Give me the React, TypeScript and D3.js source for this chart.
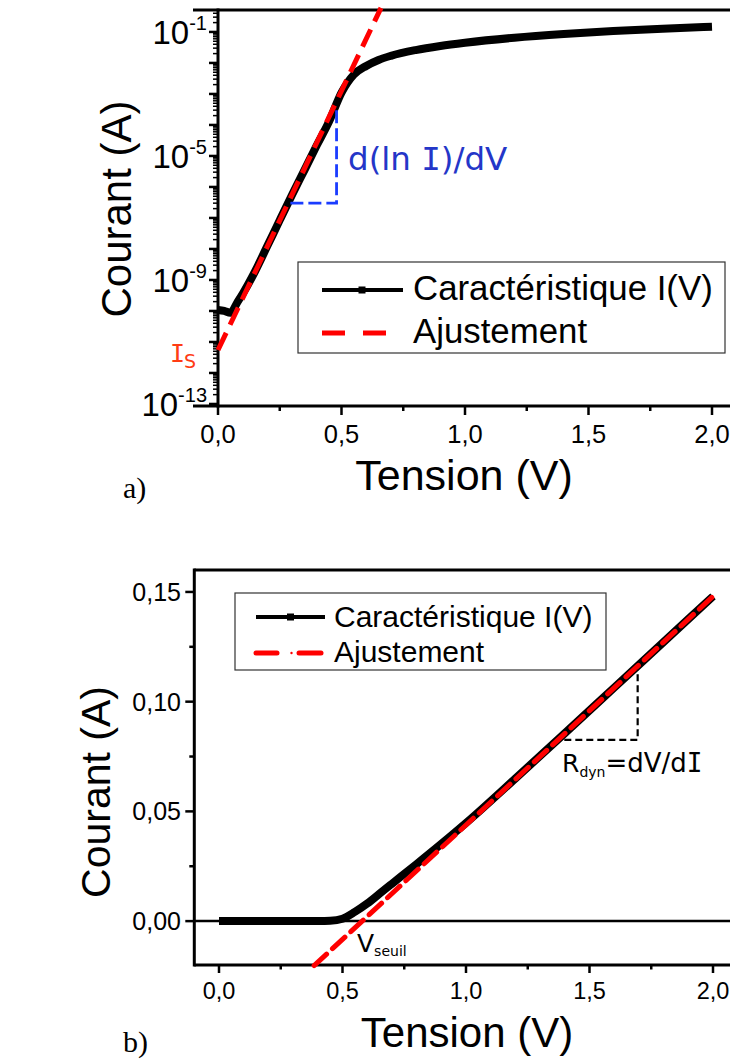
import React from "react";
import * as d3 from "d3";

// ---- Data ----
const voltage = [0, 0.025, 0.05, 0.08, 0.1, 0.15, 0.2, 0.25, 0.3, 0.35, 0.4, 0.45, 0.5, 0.55, 0.6, 0.65, 0.7, 0.8, 0.9, 1.0, 1.2, 1.4, 1.6, 1.8, 2.0];
const current = [1.07e-10, 1.0e-10, 8.7e-11, 2.0e-10, 3.6e-10, 1.9e-9, 1.26e-8, 8.5e-8, 5.6e-7, 3.5e-6, 2.2e-5, 1.3e-4, 1.1e-3, 4.2e-3, 8.0e-3, 1.25e-2, 1.7e-2, 2.6e-2, 3.52e-2, 4.47e-2, 6.5e-2, 8.56e-2, 1.064e-1, 1.272e-1, 1.48e-1];

// exponential fit (log plot), end points
const fitLogV = [0, 0.66];
const fitLogI = [5.5e-12, 0.6];
// linear fit (linear plot), end points
const fitLinV = [0.385, 2.0];
const fitLinI = [-0.0203, 0.148];

// annotation triangles
const slopeV = [0.293, 0.48];
const slopeI = [3.0e-7, 3.8e-4];
const rdynV = [1.398, 1.695];
const rdynI = [0.0826, 0.1146];

const xTicks = [0, 0.5, 1, 1.5, 2];
const xTickLabels = ["0,0", "0,5", "1,0", "1,5", "2,0"];
const xMinorTicks = [0.25, 0.75, 1.25, 1.75];
const logLabelExps = [-13, -9, -5, -1];
const linTicks = [0, 0.05, 0.1, 0.15];
const linTickLabels = ["0,00", "0,05", "0,10", "0,15"];
const linMinorTicks = [0.025, 0.075, 0.125];

const seriesName = "Caractéristique I(V)";
const fitName = "Ajustement";

const SANS = "'Liberation Sans', Arial, sans-serif";
const VERD = "'DejaVu Sans', Verdana, sans-serif";
const MONO = "'DejaVu Sans Mono', monospace";
const SERIF = "'Liberation Serif', 'Times New Roman', serif";

export default function App() {
  const pts = voltage.map((v, k) => ({ v, i: current[k] }));

  // ---------- top (log) plot ----------
  const xA = d3.scaleLinear().domain([-0.1, 2.2]).range([193.3, 761.4]);
  const yA = d3.scaleLog().domain([8.6e-14, 0.51]).range([406, 10]);
  const lineA = d3
    .line<{ v: number; i: number }>()
    .x((d) => xA(d.v))
    .y((d) => yA(d.i))
    .curve(d3.curveMonotoneX);
  const fitA = d3
    .line<number>()
    .x((_, k) => xA(fitLogV[k]))
    .y((d) => yA(d));

  const ax0 = xA(0);
  const logMajors: number[] = [];
  const logMinors: number[] = [];
  for (let e = -13; e <= -1; e++) logMajors.push(Math.pow(10, e));
  for (let e = -14; e <= -1; e++)
    for (let m = 2; m <= 9; m++) {
      const val = m * Math.pow(10, e);
      if (val >= 8.6e-14 && val <= 0.51) logMinors.push(val);
    }

  // ---------- bottom (linear) plot ----------
  const xB = d3.scaleLinear().domain([-0.1, 2.2]).range([194.3, 762.4]);
  const yB = d3.scaleLinear().domain([-0.02, 0.16]).range([965, 570]);
  const lineB = d3
    .line<{ v: number; i: number }>()
    .x((d) => xB(d.v))
    .y((d) => yB(d.i))
    .curve(d3.curveMonotoneX);
  const fitB = d3
    .line<number>()
    .x((_, k) => xB(fitLinV[k]))
    .y((d) => yB(d));

  const bL = xB(-0.1);

  return (
    <div style={{ position: "absolute", left: 0, top: 0 }}>
      <svg width={730} height={1061} style={{ display: "block", background: "#fff" }}>
        {/* ================= TOP PLOT ================= */}
        <g>
          <line x1={193} x2={730} y1={10} y2={10} stroke="#000" strokeWidth={3} />
          <line x1={193} x2={730} y1={406} y2={406} stroke="#000" strokeWidth={3} />
          <line x1={ax0} x2={ax0} y1={8.5} y2={407.5} stroke="#000" strokeWidth={3} />
          {xTicks.map((t, k) => (
            <g key={"xa" + k}>
              <line x1={xA(t)} x2={xA(t)} y1={406} y2={415} stroke="#000" strokeWidth={2.5} />
              <text x={xA(t)} y={443} textAnchor="middle" fontFamily={SANS} fontSize={25.5}>
                {xTickLabels[k]}
              </text>
            </g>
          ))}
          {xMinorTicks.map((t, k) => (
            <line key={"xam" + k} x1={xA(t)} x2={xA(t)} y1={406} y2={411} stroke="#000" strokeWidth={2.5} />
          ))}
          {logMajors.map((t, k) => (
            <line key={"yam" + k} x1={ax0 - 9} x2={ax0} y1={yA(t)} y2={yA(t)} stroke="#000" strokeWidth={2.5} />
          ))}
          {logMinors.map((t, k) => (
            <line key={"yamn" + k} x1={ax0 - 5} x2={ax0} y1={yA(t)} y2={yA(t)} stroke="#000" strokeWidth={1.5} />
          ))}
          {logLabelExps.map((e) => (
            <text key={"yal" + e} x={207} y={yA(Math.pow(10, e)) + 12} textAnchor="end" fontFamily={SANS} fontSize={33}>
              10
              <tspan fontSize={20} dy={-14}>
                {String(e)}
              </tspan>
            </text>
          ))}
          <text x={464} y={490} textAnchor="middle" fontFamily={SANS} fontSize={43}>
            Tension (V)
          </text>
          <text transform="translate(131,209) rotate(-90)" textAnchor="middle" fontFamily={SANS} fontSize={42}>
            Courant (A)
          </text>

          <path d={lineA(pts) || ""} fill="none" stroke="#000" strokeWidth={8} />
          <path d={fitA(fitLogI) || ""} fill="none" stroke="#ff0000" strokeWidth={5} strokeDasharray="19,9" />

          <path
            d={`M${xA(slopeV[0])},${yA(slopeI[0])}H${xA(slopeV[1])}V${yA(slopeI[1])}`}
            fill="none"
            stroke="#1a3cff"
            strokeWidth={2.8}
            strokeDasharray="13,5"
          />
          <text x={348} y={170} fontFamily={VERD} fontSize={32.5} fill="#2436c8">
            d(ln <tspan fontFamily={MONO}>I</tspan>)/dV
          </text>
          <text x={170} y={362} fontFamily={MONO} fontSize={25} fill="#ff3c14">
            I
            <tspan fontFamily={VERD} fontSize={19} dy={6} dx={-1}>
              S
            </tspan>
          </text>

          <rect x={298} y={262} width={427} height={91} fill="#fff" stroke="#333" strokeWidth={1.2} />
          <line x1={322} x2={403} y1={290} y2={290} stroke="#000" strokeWidth={4} />
          <rect x={358.5} y={286.5} width={7} height={7} fill="#000" />
          <text x={413} y={300} fontFamily={SANS} fontSize={34.8}>
            {seriesName}
          </text>
          <line x1={322} x2={388} y1={333} y2={333} stroke="#ff0000" strokeWidth={5} strokeDasharray="23,18" />
          <text x={413} y={343} fontFamily={SANS} fontSize={34.8}>
            {fitName}
          </text>
        </g>

        <text x={123} y={498} fontFamily={SERIF} fontSize={30}>
          a)
        </text>

        {/* ================= BOTTOM PLOT ================= */}
        <g>
          <line x1={bL} x2={730} y1={570} y2={570} stroke="#000" strokeWidth={3} />
          <line x1={bL} x2={730} y1={965} y2={965} stroke="#000" strokeWidth={3} />
          <line x1={bL} x2={bL} y1={568.5} y2={966.5} stroke="#000" strokeWidth={3} />
          <line x1={bL} x2={730} y1={yB(0)} y2={yB(0)} stroke="#000" strokeWidth={2.5} />
          {xTicks.map((t, k) => (
            <g key={"xb" + k}>
              <line x1={xB(t)} x2={xB(t)} y1={965} y2={973} stroke="#000" strokeWidth={2.5} />
              <text x={xB(t)} y={999} textAnchor="middle" fontFamily={SANS} fontSize={23.5}>
                {xTickLabels[k]}
              </text>
            </g>
          ))}
          {xMinorTicks.map((t, k) => (
            <line key={"xbm" + k} x1={xB(t)} x2={xB(t)} y1={965} y2={969.5} stroke="#000" strokeWidth={2.5} />
          ))}
          {linTicks.map((t, k) => (
            <g key={"yb" + k}>
              <line x1={bL - 9} x2={bL} y1={yB(t)} y2={yB(t)} stroke="#000" strokeWidth={2.5} />
              <text x={181} y={yB(t) + 9} textAnchor="end" fontFamily={SANS} fontSize={25}>
                {linTickLabels[k]}
              </text>
            </g>
          ))}
          {linMinorTicks.map((t, k) => (
            <line key={"ybm" + k} x1={bL - 5} x2={bL} y1={yB(t)} y2={yB(t)} stroke="#000" strokeWidth={2.5} />
          ))}
          <text x={467} y={1047} textAnchor="middle" fontFamily={SANS} fontSize={42}>
            Tension (V)
          </text>
          <text transform="translate(110,792) rotate(-90)" textAnchor="middle" fontFamily={SANS} fontSize={41}>
            Courant (A)
          </text>

          <path d={lineB(pts) || ""} fill="none" stroke="#000" strokeWidth={8} />
          <path
            d={fitB(fitLinI) || ""}
            fill="none"
            stroke="#ff0000"
            strokeWidth={5}
            strokeDasharray="17,8"
            strokeLinecap="round"
          />

          <path
            d={`M${xB(rdynV[0])},${yB(rdynI[0])}H${xB(rdynV[1])}V${yB(rdynI[1])}`}
            fill="none"
            stroke="#000"
            strokeWidth={2.2}
            strokeDasharray="7,4"
          />
          <text x={562} y={772} fontFamily={VERD} fontSize={25}>
            R
            <tspan fontSize={14} dy={5}>
              dyn
            </tspan>
            <tspan fontSize={26} dy={-5}>
              =dV/d
            </tspan>
            <tspan fontFamily={MONO} fontSize={26}>
              I
            </tspan>
          </text>
          <text x={357} y={952} fontFamily={VERD} fontSize={25}>
            V
            <tspan fontSize={14} dy={4}>
              seuil
            </tspan>
          </text>

          <rect x={235} y={593} width={371} height={77} fill="#fff" stroke="#333" strokeWidth={1.2} />
          <line x1={256} x2={325} y1={617} y2={617} stroke="#000" strokeWidth={4} />
          <rect x={287} y={613.5} width={7} height={7} fill="#000" />
          <text x={334} y={627} fontFamily={SANS} fontSize={30}>
            {seriesName}
          </text>
          <line x1={256} x2={277} y1={653} y2={653} stroke="#ff0000" strokeWidth={5} strokeLinecap="round" />
          <circle cx={291.5} cy={653} r={1.2} fill="#ff0000" />
          <line x1={299} x2={321} y1={653} y2={653} stroke="#ff0000" strokeWidth={5} strokeLinecap="round" />
          <text x={334} y={662} fontFamily={SANS} fontSize={30}>
            {fitName}
          </text>
        </g>

        <text x={123} y={1052} fontFamily={SERIF} fontSize={30}>
          b)
        </text>
      </svg>
    </div>
  );
}
